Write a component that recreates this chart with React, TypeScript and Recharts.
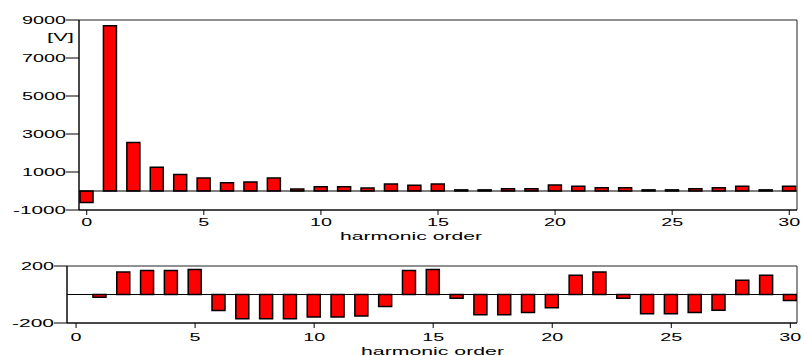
import React from "react";
import {
  ComposedChart,
  Bar,
  XAxis,
  YAxis,
  ReferenceLine,
  ReferenceArea,
} from "recharts";

// harmonic order 0..30
const harmonics = [
  0, 1, 2, 3, 4, 5, 6, 7, 8, 9, 10, 11, 12, 13, 14, 15,
  16, 17, 18, 19, 20, 21, 22, 23, 24, 25, 26, 27, 28, 29, 30,
];

// amplitude [V]
const amplitude = [
  -600, 8700, 2550, 1250, 870, 680, 440, 470, 680, 100, 230, 230, 160, 365, 300, 365,
  60, 60, 120, 120, 310, 245, 175, 175, 60, 60, 120, 175, 245, 60, 245,
];

// lower panel
const phase = [
  0, -20, 158, 168, 168, 175, -112, -170, -170, -170, -158, -158, -151, -84, 168, 175,
  -26, -142, -142, -126, -93, 135, 158, -26, -135, -135, -126, -110, 100, 135, -42,
];

const xTicks = [0, 5, 10, 15, 20, 25, 30];
const topYTicks = [-1000, 1000, 3000, 5000, 7000, 9000];
const bottomYTicks = [-200, 200];
const xTitle = "harmonic order";
const unitLabel = "[V]";

const data = harmonics.map((h, i) => ({ h, amp: amplitude[i], ph: phase[i] }));

const FONT = "'Liberation Sans', Arial, sans-serif";

// the original text is drawn wide, so stretch every glyph
function textWidth(s: string) {
  let w = 0;
  for (const c of s) w += c === "-" ? 9 : 11;
  return w;
}

function StretchTick(props: any) {
  const { x, y, payload, anchor, dy } = props;
  const label = String(payload.value);
  const w = textWidth(label);
  const x0 = anchor === "end" ? x - w : x - w / 2;
  return (
    <text
      x={x0}
      y={y + dy}
      textLength={w}
      lengthAdjust="spacingAndGlyphs"
      fontSize={11}
      fontFamily={FONT}
      fill="#000"
    >
      {label}
    </text>
  );
}

function WideText({ x, y, width, children }: any) {
  return (
    <text
      x={x}
      y={y}
      textLength={width}
      lengthAdjust="spacingAndGlyphs"
      fontSize={11}
      fontFamily={FONT}
      fill="#000"
    >
      {children}
    </text>
  );
}

export default function App() {
  return (
    <div style={{ position: "absolute", left: 0, top: 0, width: 804, height: 356, background: "#fff" }}>
      <div style={{ position: "absolute", left: 0, top: 0 }}>
        <ComposedChart width={804} height={245} data={data} margin={{ top: 20, right: 7, left: 0, bottom: 0 }}>
          <XAxis
            dataKey="h"
            type="number"
            domain={[-0.33, 30.33]}
            ticks={xTicks}
            allowDataOverflow
            height={35}
            tickSize={5}
            tickMargin={0}
            axisLine={{ stroke: "#000" }}
            tickLine={{ stroke: "#000" }}
            tick={<StretchTick anchor="middle" dy={11} />}
            label={{
              content: (p: any) => (
                <WideText x={p.viewBox.x + p.viewBox.width / 2 - 98} y={p.viewBox.y + 30} width={142}>
                  {xTitle}
                </WideText>
              ),
            }}
          />
          <YAxis
            type="number"
            domain={[-1000, 9000]}
            ticks={topYTicks}
            allowDataOverflow
            width={79}
            tickSize={13}
            tickMargin={0}
            axisLine={{ stroke: "#000" }}
            tickLine={{ stroke: "#000" }}
            tick={<StretchTick anchor="end" dy={4} />}
            label={{
              content: (p: any) => (
                <WideText x={p.viewBox.x + p.viewBox.width - 32} y={p.viewBox.y + 21} width={27}>
                  {unitLabel}
                </WideText>
              ),
            }}
          />
          <ReferenceArea x1={-0.33} x2={30.33} y1={-1000} y2={9000} fill="none" stroke="#222" />
          <ReferenceLine y={0} stroke="#000" />
          <Bar dataKey="amp" fill="#ff0000" stroke="#000" strokeWidth={1.5} barSize={13} isAnimationActive={false} />
        </ComposedChart>
      </div>
      <div style={{ position: "absolute", left: 0, top: 245 }}>
        <ComposedChart width={804} height={111} data={data} margin={{ top: 21, right: 7, left: 0, bottom: 0 }}>
          <XAxis
            dataKey="h"
            type="number"
            domain={[-0.38, 30.28]}
            ticks={xTicks}
            allowDataOverflow
            height={33}
            tickSize={5}
            tickMargin={0}
            axisLine={{ stroke: "#000" }}
            tickLine={{ stroke: "#000" }}
            tick={<StretchTick anchor="middle" dy={13} />}
            label={{
              content: (p: any) => (
                <WideText x={p.viewBox.x + p.viewBox.width / 2 - 71} y={p.viewBox.y + 32} width={143}>
                  {xTitle}
                </WideText>
              ),
            }}
          />
          <YAxis
            type="number"
            domain={[-200, 200]}
            ticks={bottomYTicks}
            allowDataOverflow
            width={67}
            tickSize={13}
            tickMargin={0}
            axisLine={{ stroke: "#000" }}
            tickLine={{ stroke: "#000" }}
            tick={<StretchTick anchor="end" dy={4} />}
          />
          <ReferenceArea x1={-0.38} x2={30.28} y1={-200} y2={200} fill="none" stroke="#222" />
          <ReferenceLine y={0} stroke="#000" />
          <Bar dataKey="ph" fill="#ff0000" stroke="#000" strokeWidth={1.5} barSize={13} isAnimationActive={false} />
        </ComposedChart>
      </div>
    </div>
  );
}
